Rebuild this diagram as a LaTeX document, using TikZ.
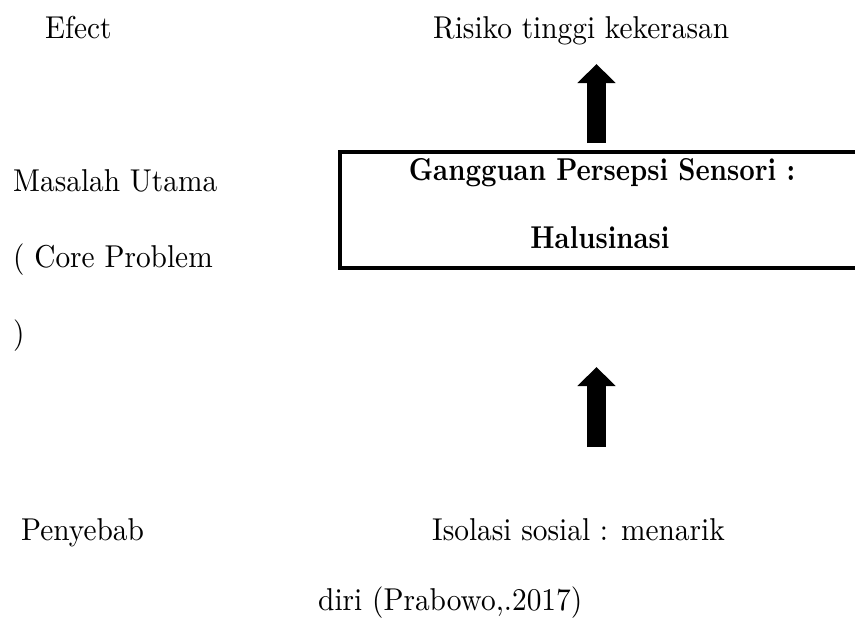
\documentclass[tikz,border=0pt]{standalone}
\usepackage{fontspec}
\setmainfont{lmroman10-regular.otf}[FakeStretch=0.929,BoldFont=lmroman10-bold.otf,BoldFeatures={FakeStretch=0.853}]
\usetikzlibrary{arrows.meta}
\begin{document}
\begin{tikzpicture}[x=1pt,y=-1pt,
  txt/.style={anchor=base west,inner sep=0pt,font=\fontsize{31.6}{38}\selectfont},
  boldtxt/.style={anchor=base,inner sep=0pt,font=\fontsize{31.6}{38}\selectfont\bfseries},
  corebox/.style={draw=black,line width=4pt,rectangle,minimum width=522pt,minimum height=116pt,inner sep=0pt},
  bigarrow/.style={line width=19pt,line cap=butt,-{Triangle[width=37pt,length=19pt]}}]
\useasboundingbox (0,0) rectangle (855,621);
\fill[white] (0,0) rectangle (855,621);
% left column labels
\node[txt] (efect) at (45,38) {Efect};
\node[txt] (masalah) at (13,191) {Masalah Utama};
\node[txt] (core) at (13,267) {( Core Problem};
\node[txt] (close) at (13,343) {)};
\node[txt] (penyebab) at (21,540) {Penyebab};
% right column
\node[txt] (risiko) at (433,38) {Risiko tinggi kekerasan};
\node[corebox] (box) at (601,210) {};
\node[boldtxt] (box1) at (602,180) {Gangguan Persepsi Sensori :};
\node[boldtxt] (box2) at (600,248) {Halusinasi};
\node[txt] (iso) at (432,540) {Isolasi sosial : menarik};
\node[txt] (diri) at (318,610) {diri (Prabowo,.2017)};
% arrows
\coordinate (upfrom) at (596.5,143);
\coordinate (upto) at (596.5,64);
\coordinate (lowfrom) at (596.5,447);
\coordinate (lowto) at (596.5,367);
\draw[bigarrow] (upfrom) -- (upto);
\draw[bigarrow] (lowfrom) -- (lowto);
\end{tikzpicture}
\end{document}
